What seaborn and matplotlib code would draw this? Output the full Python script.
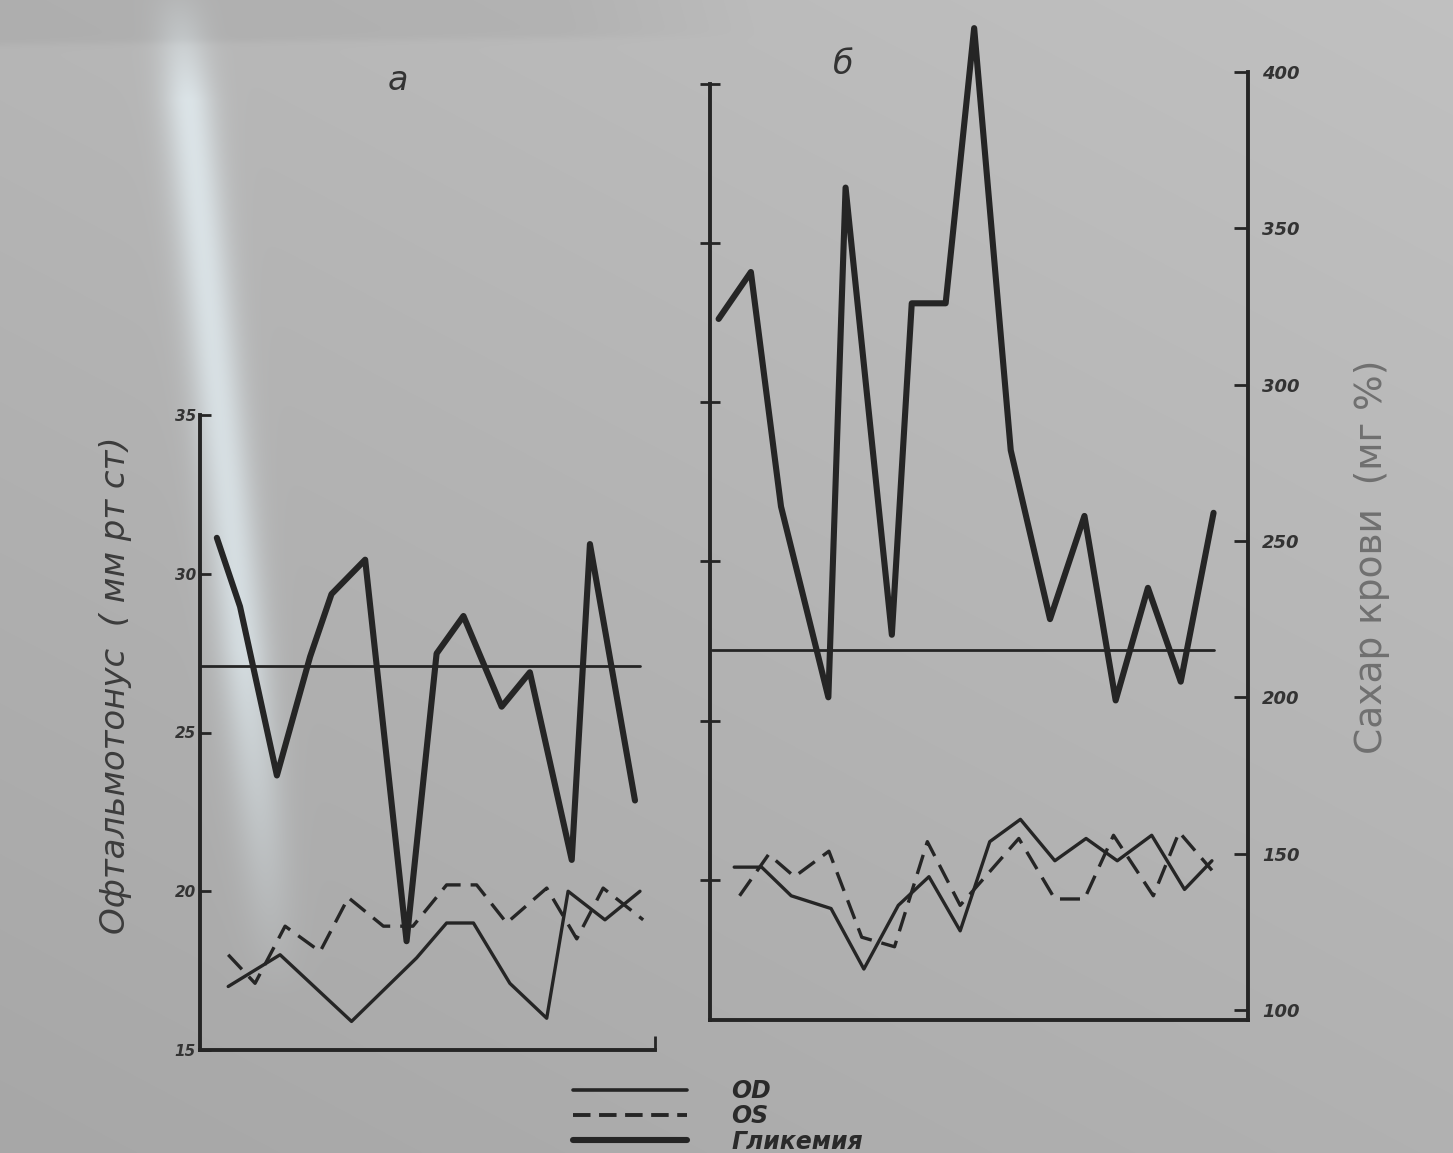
import numpy as np
import pandas as pd
import matplotlib
matplotlib.use("Agg")
import matplotlib.pyplot as plt
import seaborn as sns
from matplotlib.lines import Line2D

# ---- panel а -------------------------------------------------------------
# x: position along the observation period (0-100 of the axis length)
a_gly_x = [3.7, 8.8, 16.9, 24.2, 28.9, 36.3, 45.4, 52.0, 57.9, 66.3, 72.5, 81.7, 85.7, 95.6]
a_gly = [251, 229, 175, 213, 233, 244, 122, 214, 226, 197, 208, 148, 249, 167]          # mg %
a_od_x = [6.2, 17.6, 33.3, 47.6, 54.2, 60.1, 68.1, 76.2, 80.9, 89.0, 96.7]
a_od = [17.0, 18.0, 15.9, 17.9, 19.0, 19.0, 17.1, 16.0, 20.0, 19.1, 20.0]               # mm Hg
a_os_x = [6.2, 12.1, 18.7, 26.4, 32.6, 40.3, 46.8, 54.2, 60.8, 67.4, 76.2, 82.8, 88.6, 97.4]
a_os = [18.0, 17.1, 18.9, 18.1, 19.8, 18.9, 18.9, 20.2, 20.2, 19.0, 20.1, 18.5, 20.1, 19.1]
a_level_x = [0, 96.7]
a_level = [210, 210]

# ---- panel б -------------------------------------------------------------
b_gly_x = [1.6, 7.6, 13.2, 22.0, 25.2, 33.8, 37.5, 43.8, 49.1, 55.9, 63.2, 69.6, 75.4, 81.4, 87.5, 93.6]
b_gly = [321, 336, 261, 200, 363, 220, 326, 326, 414, 279, 225, 258, 199, 235, 205, 259]
b_od_x = [4.5, 9.6, 15.1, 22.5, 28.6, 35.0, 40.7, 46.5, 52.0, 57.7, 64.1, 69.9, 75.7, 82.1, 88.2, 93.3]
b_od = [20.4, 20.4, 19.5, 19.1, 17.2, 19.2, 20.1, 18.4, 21.2, 21.9, 20.6, 21.3, 20.6, 21.4, 19.7, 20.6]
b_os_x = [5.5, 10.9, 15.7, 22.1, 28.2, 34.3, 40.4, 46.5, 57.4, 64.1, 69.6, 75.0, 82.4, 87.2, 93.3]
b_os = [19.5, 20.8, 20.1, 20.9, 18.2, 17.9, 21.2, 19.2, 21.3, 19.4, 19.4, 21.4, 19.5, 21.5, 20.3]
b_level_x = [0.4, 93.7]
b_level = [215, 215]

a_ticks = [15, 20, 25, 30, 35]
b_iop_ticks = [20, 25, 30, 35, 40, 45]
b_sugar_ticks = [100, 150, 200, 250, 300, 350, 400]

sns.set_theme(style="white")
plt.rcParams["font.family"] = ["DejaVu Sans"]

INK = "#252525"
GLY_LW = 4.4
THIN_LW = 2.4
W, H = 1453, 1153
fig = plt.figure(figsize=(W / 100, H / 100), dpi=100)


def box(x0, y0, x1, y1):
    return [x0 / W, 1 - y1 / H, (x1 - x0) / W, (y1 - y0) / H]


# photographed paper: grey tone with a light glare streak on the left
yy, xx = np.mgrid[0:H, 0:W].astype(float)
tone = 0.755 - 0.06 * (yy / H) - 0.04 * (1 - xx / W)
edge = 44 - 0.012 * xx
tone = tone - 0.03 * (1 / (1 + np.exp((yy - edge) / 2.0))) * np.clip((760 - xx) / 200, 0, 1)
xc = 188 + 0.1 * (yy - 100)
amp = 0.2 * np.clip((1000 - yy) / 350, 0, 1) * np.clip((yy + 20) / 120, 0, 1)
glare = amp * np.exp(-((xx - xc) / 26) ** 2)
rgb = np.dstack([tone + 0.72 * glare, tone + 0.88 * glare, tone + 0.95 * glare])
rgb = np.clip(rgb, 0, 1)
bg = fig.add_axes([0, 0, 1, 1], zorder=-10)
bg.imshow(rgb, aspect="auto", extent=[0, 1, 0, 1], interpolation="bilinear")
bg.axis("off")


def clear(ax):
    ax.patch.set_alpha(0)
    ax.grid(False)
    ax.set_xlabel("")
    ax.set_ylabel("")


tick_font = dict(fontstyle="italic", fontweight="bold", color="#333333")

# ---- panel а : intraocular pressure axes -----------------------------------
ax_a = fig.add_axes(box(200, 415, 655, 1050))
sns.lineplot(x=a_od_x, y=a_od, ax=ax_a, color=INK, lw=THIN_LW)
sns.lineplot(x=a_os_x, y=a_os, ax=ax_a, color=INK, lw=THIN_LW, linestyle=(0, (6, 3)))
ax_a.set_xlim(0, 100)
ax_a.set_ylim(15, 35)
clear(ax_a)
for s in ("top", "right"):
    ax_a.spines[s].set_visible(False)
for s in ("left", "bottom"):
    ax_a.spines[s].set_color(INK)
    ax_a.spines[s].set_linewidth(2.8)
ax_a.set_yticks(a_ticks)
ax_a.set_yticklabels([str(t) for t in a_ticks], fontsize=11, **tick_font)
ax_a.set_xticks([100])
ax_a.set_xticklabels([""])
ax_a.tick_params(axis="y", direction="in", length=8, width=2, color=INK, pad=3, left=True)
ax_a.tick_params(axis="x", direction="in", length=10, width=2, color=INK, bottom=True)

# panel а glycaemia, drawn on the same mg % scale as panel б
ax_ag = fig.add_axes(box(200, 20, 655, 1020))
sns.lineplot(x=a_gly_x, y=a_gly, ax=ax_ag, color=INK, lw=GLY_LW)
sns.lineplot(x=a_level_x, y=a_level, ax=ax_ag, color=INK, lw=2.0)
ax_ag.set_xlim(0, 100)
ax_ag.set_ylim(96.8, 416.6)
ax_ag.axis("off")

# ---- panel б -------------------------------------------------------------
ax_b = fig.add_axes(box(710, 20, 1248, 1020))
sns.lineplot(x=b_od_x, y=b_od, ax=ax_b, color=INK, lw=THIN_LW)
sns.lineplot(x=b_os_x, y=b_os, ax=ax_b, color=INK, lw=THIN_LW, linestyle=(0, (6, 3)))
ax_b.set_xlim(0, 100)
ax_b.set_ylim(15.6, 47.0)
clear(ax_b)
ax_b.spines["top"].set_visible(False)
ax_b.spines["right"].set_visible(False)
for s in ("left", "bottom"):
    ax_b.spines[s].set_color(INK)
    ax_b.spines[s].set_linewidth(2.8)
ax_b.spines["left"].set_bounds(15.6, 45)
ax_b.set_yticks(b_iop_ticks)
ax_b.set_yticklabels([])
ax_b.set_xticks([])
ax_b.tick_params(axis="y", direction="inout", length=14, width=2, color=INK, left=True)

ax_br = ax_b.twinx()
sns.lineplot(x=b_gly_x, y=b_gly, ax=ax_br, color=INK, lw=GLY_LW, clip_on=False)
sns.lineplot(x=b_level_x, y=b_level, ax=ax_br, color=INK, lw=2.0)
ax_br.set_xlim(0, 100)
ax_br.set_ylim(96.8, 416.6)
clear(ax_br)
for s in ("top", "left", "bottom"):
    ax_br.spines[s].set_visible(False)
ax_br.spines["right"].set_color(INK)
ax_br.spines["right"].set_linewidth(2.8)
ax_br.spines["right"].set_bounds(96.8, 400)
ax_br.set_yticks(b_sugar_ticks)
ax_br.set_yticklabels([str(t) for t in b_sugar_ticks], fontsize=13, **tick_font)
ax_br.tick_params(axis="y", direction="in", length=10, width=2, color=INK, pad=10, right=True)

# ---- titles, axis names, legend -----------------------------------------
fig.text(398 / W, 1 - 80 / H, "а", fontsize=24, fontstyle="italic", color="#333333",
         ha="center", va="center")
fig.text(843 / W, 1 - 64 / H, "б", fontsize=24, fontstyle="italic", color="#333333",
         ha="center", va="center")
fig.text(115 / W, 1 - 685 / H, "Офтальмотонус  ( мм рт ст)", rotation=90, fontsize=24.5,
         fontstyle="italic", color="#3c3c3c", ha="center", va="center")
fig.text(1372 / W, 1 - 557 / H, "Сахар крови  (мг %)", rotation=90, fontsize=27,
         color="#707070", ha="center", va="center")

handles = [
    Line2D([], [], color=INK, lw=2.6),
    Line2D([], [], color=INK, lw=2.8, linestyle=(0, (4.5, 2.2))),
    Line2D([], [], color=INK, lw=GLY_LW),
]
fig.legend(handles, ["OD", "OS", "Гликемия"], loc="upper left",
           bbox_to_anchor=(552 / W, 1 - 1058 / H), frameon=False,
           handlelength=4.8, handletextpad=1.9, labelspacing=0.05,
           prop=dict(size=17, style="italic", weight="bold"), labelcolor="#2a2a2a")

fig.savefig("out.png", dpi=100)
